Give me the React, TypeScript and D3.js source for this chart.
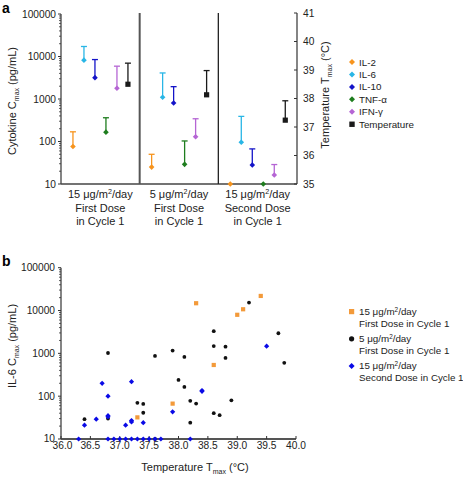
import React from "react";
import * as d3 from "d3";

const W = 463, H = 477;
const FONT = "Liberation Sans, Arial, sans-serif";

// Panel a data
const groups = ["g1", "g2", "g3"];
const groupLabels = [
  ["15 μg/m²/day", "First Dose", "in Cycle 1"],
  ["5 μg/m²/day", "First Dose", "in Cycle 1"],
  ["15 μg/m²/day", "Second Dose", "in Cycle 1"],
];
const seriesNames = ["IL-2", "IL-6", "IL-10", "TNF-α", "IFN-γ", "Temperature"];
const seriesColors = ["#F7941D", "#29B6E6", "#1414C8", "#1E7D1E", "#B565D4", "#1a1a1a"];
const il2Mean = [76, 25, 10];
const il2Upper = [169, 50, 10];
const il6Mean = [8200, 1100, 96];
const il6Upper = [17200, 4100, 390];
const il10Mean = [3180, 805, 28];
const il10Upper = [8470, 1950, 67];
const tnfMean = [166, 29, 10];
const tnfUpper = [362, 103, 10];
const ifnMean = [1790, 129, 16.3];
const ifnUpper = [5920, 343, 28.7];
const tempMean = [38.5, 38.13, 37.24];
const tempUpper = [39.24, 38.98, 37.92];
const cytoTicks = [10, 100, 1000, 10000, 100000];
const tempTicks = [35, 36, 37, 38, 39, 40, 41];

// Panel b data
const orangeT = [37.3, 37.9, 38.3, 38.6, 39.0, 39.1, 39.4];
const orangeIL6 = [32, 67, 14800, 535, 7950, 10700, 21900];
const blackT = [36.4, 36.8, 36.8, 37.3, 37.4, 37.4, 37.6, 37.6, 37.9, 38.0, 38.1, 38.1, 38.2, 38.2, 38.3, 38.6, 38.6, 38.6, 38.7, 38.8, 38.8, 38.9, 39.2, 39.7, 39.8];
const blackIL6 = [29, 1020, 30, 70, 66, 41, 870, 10, 1160, 240, 825, 164, 78, 24, 67, 3300, 1480, 40, 36, 1430, 780, 80, 15300, 2950, 600];
const blueT = [36.3, 36.4, 36.6, 36.7, 36.8, 36.8, 36.8, 36.8, 36.9, 37.0, 37.1, 37.1, 37.2, 37.2, 37.2, 37.2, 37.3, 37.4, 37.4, 37.5, 37.6, 37.7, 37.9, 38.2, 38.4, 38.4, 39.5];
const blueIL6 = [10, 21, 29, 200, 100, 35, 33, 10, 10, 10, 21, 10, 218, 27, 25, 10, 10, 24, 10, 10, 10, 10, 43, 10, 135, 130, 1470];
const tempXTicks = [36.0, 36.5, 37.0, 37.5, 38.0, 38.5, 39.0, 39.5, 40.0];
const scatterLegend = [
  ["15 μg/m²/day", "First Dose in Cycle 1"],
  ["5 μg/m²/day", "First Dose in Cycle 1"],
  ["15 μg/m²/day", "Second Dose in Cycle 1"],
];
const scatterColors = ["#F39A3A", "#111111", "#0A0AE6"];

function Diamond({ x, y, s, fill }: { x: number; y: number; s: number; fill: string }) {
  return <path d={`M${x},${y - s}L${x + s},${y}L${x},${y + s}L${x - s},${y}Z`} fill={fill} />;
}

function SupText({ x, y, text, anchor = "start", size }: any) {
  const parts = text.split("²");
  return (
    <text x={x} y={y} textAnchor={anchor} fontSize={size} fontFamily={FONT} fill="#222">
      {parts.length === 1 ? text : (
        <>
          {parts[0]}
          <tspan fontSize={size * 0.65} dy={-size * 0.35}>2</tspan>
          <tspan dy={size * 0.35}>{parts[1]}</tspan>
        </>
      )}
    </text>
  );
}

function minorLogTicks(domain: [number, number]) {
  const out: number[] = [];
  for (let e = Math.log10(domain[0]); e < Math.log10(domain[1]); e++) {
    for (let k = 2; k <= 9; k++) out.push(k * Math.pow(10, e));
  }
  return out;
}

export default function App() {
  const aLeft = 61, aRight = 297, aTop = 14, aBottom = 184;
  const yA = d3.scaleLog().domain([10, 100000]).range([aBottom, aTop]);
  const yT = d3.scaleLinear().domain([35, 41]).range([aBottom, 13]);
  const xG = d3.scaleBand().domain(groups).range([aLeft, aRight]).padding(0);
  const bw = xG.bandwidth();
  const xS = d3.scalePoint().domain(seriesNames).range([0.152 * bw, 0.851 * bw]);

  const cytoMeans = [il2Mean, il6Mean, il10Mean, tnfMean, ifnMean];
  const cytoUppers = [il2Upper, il6Upper, il10Upper, tnfUpper, ifnUpper];

  const bLeft = 61, bRight = 296, bTop = 267.7, bBottom = 439;
  const yB = d3.scaleLog().domain([10, 100000]).range([bBottom, bTop]);
  const xB = d3.scaleLinear().domain([36, 40]).range([bLeft, bRight]);

  const axisColor = "#333";
  const tickFs = 10.2;
  const titleFs = 11;

  return (
    <svg width={W} height={H} style={{ position: "absolute", left: 0, top: 0, background: "#fff" }}>
      <text x={2} y={13} fontSize={14} fontWeight="bold" fontFamily={FONT}>a</text>
      <text x={2} y={266} fontSize={14} fontWeight="bold" fontFamily={FONT}>b</text>

      {/* ===== Panel a ===== */}
      <line x1={aLeft} x2={aLeft} y1={aTop} y2={aBottom} stroke={axisColor} strokeWidth={1.2} />
      {minorLogTicks([10, 100000]).map((v, i) => (
        <line key={"am" + i} x1={aLeft - 2} x2={aLeft} y1={yA(v)} y2={yA(v)} stroke={axisColor} strokeWidth={0.8} />
      ))}
      {cytoTicks.map((v) => (
        <g key={"at" + v}>
          <line x1={aLeft - 3} x2={aLeft} y1={yA(v)} y2={yA(v)} stroke={axisColor} />
          <text x={aLeft - 5} y={yA(v) + 3.6} textAnchor="end" fontSize={tickFs} fontFamily={FONT} fill="#222">{v}</text>
        </g>
      ))}
      <line x1={aLeft} x2={aRight} y1={aBottom} y2={aBottom} stroke="#444" strokeWidth={1.6} />
      {groups.slice(1).map((g, i) => (
        <line key={"div" + g} x1={xG(g)!} x2={xG(g)!} y1={aTop - 1} y2={aBottom} stroke={i === 0 ? "#555" : "#222"} strokeWidth={i === 0 ? 2 : 1.3} />
      ))}
      <line x1={aRight} x2={aRight} y1={13} y2={aBottom} stroke={axisColor} strokeWidth={1.2} />
      {tempTicks.map((v) => (
        <g key={"rt" + v}>
          <line x1={aRight - 3} x2={aRight} y1={yT(v)} y2={yT(v)} stroke={axisColor} />
          <text x={aRight + 6} y={yT(v) + 3.6} fontSize={tickFs} fontFamily={FONT} fill="#222">{v}</text>
        </g>
      ))}
      <text transform={`translate(16,${(aTop + aBottom) / 2 + 2}) rotate(-90)`} textAnchor="middle" fontSize={titleFs} fontFamily={FONT} fill="#222">
        Cytokine C<tspan fontSize={7} dy={3}>max</tspan><tspan dy={-3}> (pg/mL)</tspan>
      </text>
      <text transform={`translate(329,${95}) rotate(-90)`} textAnchor="middle" fontSize={titleFs} fontFamily={FONT} fill="#222">
        Temperature T<tspan fontSize={7} dy={3}>max</tspan><tspan dy={-3}> (°C)</tspan>
      </text>
      {groups.map((g, gi) => (
        <g key={"gl" + g}>
          {groupLabels[gi].map((t, li) => (
            <SupText key={li} x={xG(g)! + bw / 2} y={198 + li * 13.6} text={t} anchor="middle" size={titleFs} />
          ))}
        </g>
      ))}
      {groups.map((g, gi) =>
        cytoMeans.map((arr, si) => {
          const cx = xG(g)! + xS(seriesNames[si])!;
          const ym = yA(arr[gi]);
          const yu = yA(cytoUppers[si][gi]);
          const col = seriesColors[si];
          return (
            <g key={`c${gi}-${si}`}>
              {cytoUppers[si][gi] > arr[gi] && (
                <>
                  <line x1={cx} x2={cx} y1={ym} y2={yu} stroke={col} strokeWidth={1.3} />
                  <line x1={cx - 3} x2={cx + 3} y1={yu} y2={yu} stroke={col} strokeWidth={1.3} />
                </>
              )}
              <Diamond x={cx} y={ym} s={2.8} fill={col} />
            </g>
          );
        })
      )}
      {groups.map((g, gi) => {
        const cx = xG(g)! + xS("Temperature")!;
        const ym = yT(tempMean[gi]);
        const yu = yT(tempUpper[gi]);
        return (
          <g key={"t" + gi}>
            <line x1={cx} x2={cx} y1={ym} y2={yu} stroke={seriesColors[5]} strokeWidth={1.3} />
            <line x1={cx - 3} x2={cx + 3} y1={yu} y2={yu} stroke={seriesColors[5]} strokeWidth={1.3} />
            <rect x={cx - 2.6} y={ym - 2.6} width={5.2} height={5.2} fill={seriesColors[5]} />
          </g>
        );
      })}
      {seriesNames.map((n, i) => {
        const ly = 62 + i * 12.45;
        return (
          <g key={"la" + n}>
            {i < 5 ? <Diamond x={352} y={ly} s={3} fill={seriesColors[i]} /> : <rect x={349.3} y={ly - 2.7} width={5.4} height={5.4} fill={seriesColors[i]} />}
            <text x={359} y={ly + 3.5} fontSize={9.8} fontFamily={FONT} fill="#222">{n}</text>
          </g>
        );
      })}

      {/* ===== Panel b ===== */}
      <line x1={bLeft} x2={bLeft} y1={bTop} y2={bBottom} stroke={axisColor} strokeWidth={1.2} />
      {minorLogTicks([10, 100000]).map((v, i) => (
        <line key={"bm" + i} x1={bLeft - 2} x2={bLeft} y1={yB(v)} y2={yB(v)} stroke={axisColor} strokeWidth={0.8} />
      ))}
      {cytoTicks.map((v) => (
        <g key={"bt" + v}>
          <line x1={bLeft - 3} x2={bLeft} y1={yB(v)} y2={yB(v)} stroke={axisColor} />
          <text x={bLeft - 6} y={yB(v) + (v === 10 ? 2.6 : 3.6)} textAnchor="end" fontSize={tickFs} fontFamily={FONT} fill="#222">{v}</text>
        </g>
      ))}
      <line x1={bLeft} x2={bRight} y1={bBottom} y2={bBottom} stroke="#555" strokeWidth={1.8} />
      {tempXTicks.map((v) => (
        <g key={"bx" + v}>
          <line x1={xB(v)} x2={xB(v)} y1={bBottom} y2={bBottom - 3} stroke={axisColor} />
          <text x={xB(v) + (v === 36 ? 1.5 : 0)} y={bBottom + 10} textAnchor="middle" fontSize={tickFs} fontFamily={FONT} fill="#222">{v.toFixed(1)}</text>
        </g>
      ))}
      <text transform={`translate(16,${346}) rotate(-90)`} textAnchor="middle" fontSize={titleFs} fontFamily={FONT} fill="#222">
        IL-6 C<tspan fontSize={7} dy={3}>max</tspan><tspan dy={-3}> (pg/mL)</tspan>
      </text>
      <text x={195} y={471} textAnchor="middle" fontSize={titleFs} fontFamily={FONT} fill="#222">
        Temperature T<tspan fontSize={7} dy={3}>max</tspan><tspan dy={-3}> (°C)</tspan>
      </text>
      {blackT.map((t, i) => (
        <circle key={"bk" + i} cx={xB(t)} cy={yB(blackIL6[i])} r={1.9} fill={scatterColors[1]} />
      ))}
      {blueT.map((t, i) => (
        <Diamond key={"bl" + i} x={xB(t)} y={yB(blueIL6[i])} s={2.6} fill={scatterColors[2]} />
      ))}
      {orangeT.map((t, i) => (
        <rect key={"or" + i} x={xB(t) - 2.1} y={yB(orangeIL6[i]) - 2.1} width={4.2} height={4.2} fill={scatterColors[0]} />
      ))}
      {scatterLegend.map((lines, i) => {
        const ly = 315 + i * 27.2;
        const c = scatterColors[i];
        return (
          <g key={"lb" + i}>
            {i === 0 && <rect x={349} y={ly - 6} width={5.2} height={5.2} fill={c} />}
            {i === 1 && <circle cx={351.6} cy={ly - 3.4} r={2.6} fill={c} />}
            {i === 2 && <Diamond x={351.6} y={ly - 3.4} s={3} fill={c} />}
            <SupText x={359} y={ly} text={lines[0]} size={9.8} />
            <SupText x={359} y={ly + 11.5} text={lines[1]} size={9.8} />
          </g>
        );
      })}
    </svg>
  );
}
